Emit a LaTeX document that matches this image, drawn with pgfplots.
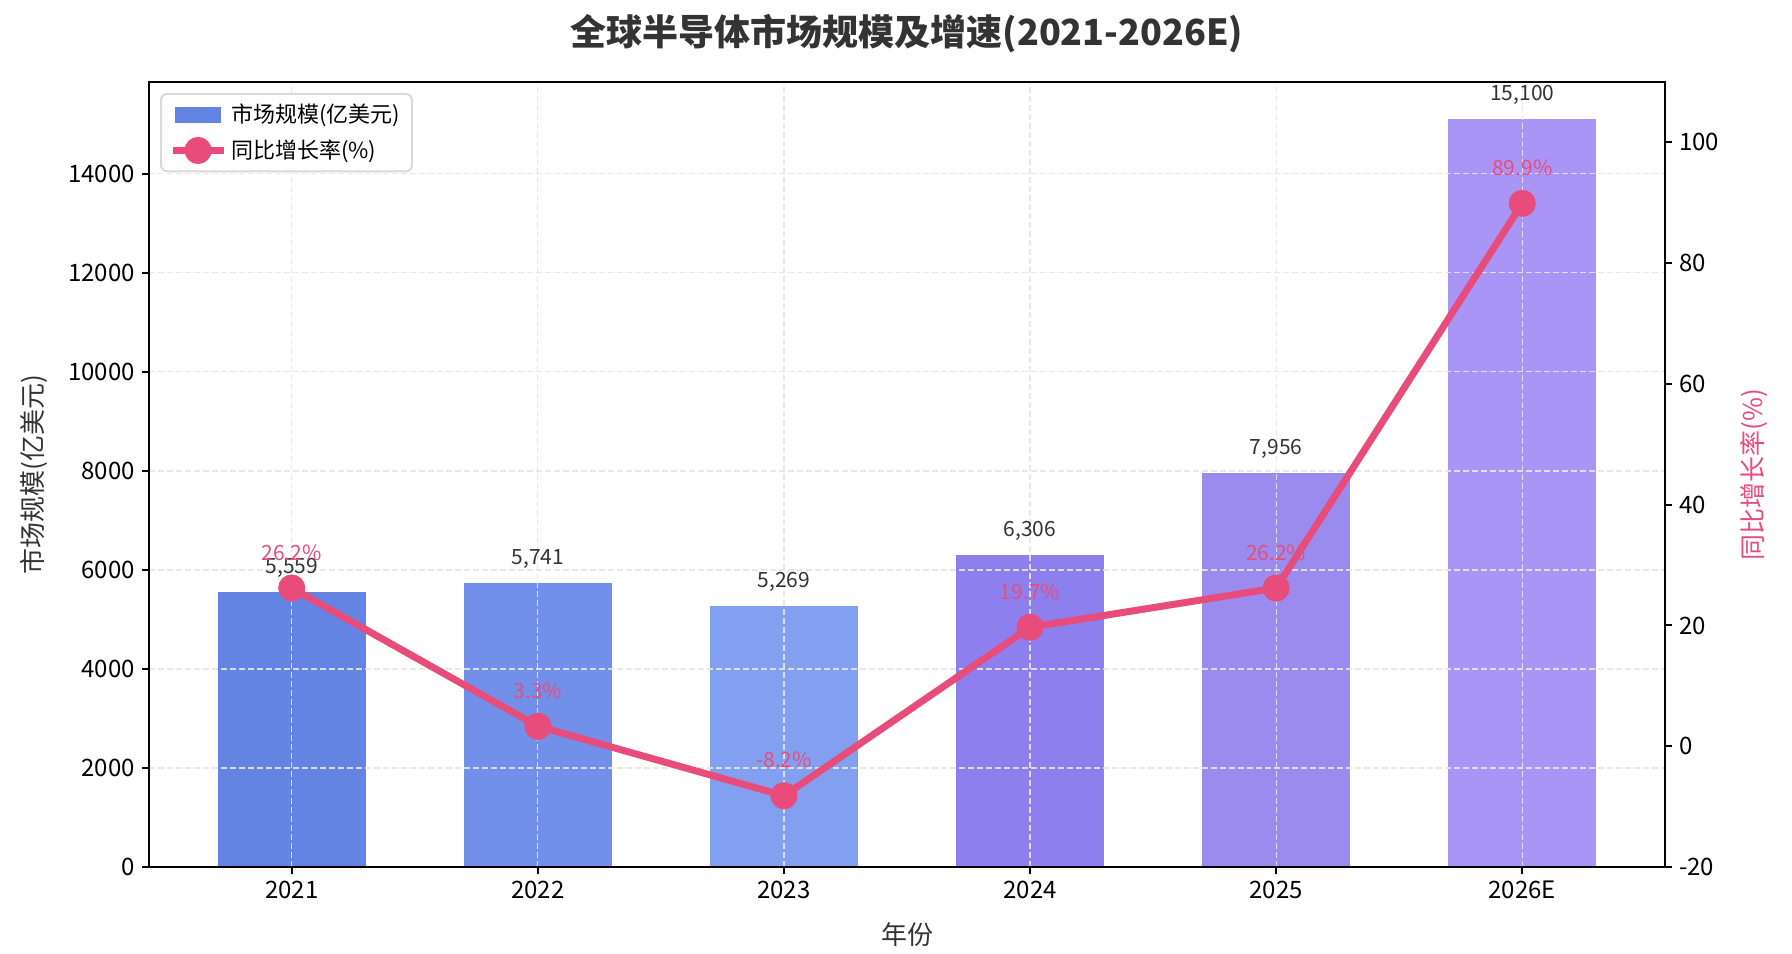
\documentclass[border=0pt]{standalone}
\usepackage{fontspec}
\setmainfont{Noto Sans CJK SC}
\usepackage{pgfplots}
\pgfplotsset{compat=1.18}
\definecolor{b1}{RGB}{100,132,228}
\definecolor{b2}{RGB}{114,144,233}
\definecolor{b3}{RGB}{131,160,240}
\definecolor{b4}{RGB}{141,127,237}
\definecolor{b5}{RGB}{155,139,238}
\definecolor{b6}{RGB}{169,149,245}
\definecolor{pk}{RGB}{232,76,122}
\definecolor{tx}{RGB}{51,51,51}
\begin{document}
\begin{tikzpicture}[x=1pt,y=1pt]
\useasboundingbox (0,0) rectangle (896,476.5);
\node[font=\fontsize{18}{20}\selectfont\bfseries, text=tx] at (453.5,459.5) {全球半导体市场规模及增速(2021-2026E)};
\pgfplotsset{
 common/.style={
  scale only axis, width=758pt, height=392.5pt,
  at={(74.5pt,43pt)}, anchor=south west,
  xmin=-0.58, xmax=5.58,
  tick align=outside, major tick length=3.5pt,
  tick style={black, line width=1pt},
  axis line style={black, line width=1pt},
  every outer y axis line/.append style={-},
  every inner y axis line/.append style={-},
  ticklabel style={font=\fontsize{12}{14}\selectfont},
  scaled y ticks=false,
  /pgf/number format/assume math mode=true,
  /pgf/number format/1000 sep={},
  label style={font=\fontsize{13}{15}\selectfont, text=tx},
 }}
\begin{axis}[common,
 ymin=0, ymax=15855, ytick={0,2000,...,14000},
 xtick={0,...,5}, xticklabels={2021,2022,2023,2024,2025,2026E},
 xtick pos=bottom, ytick pos=left,
 axis on top,
 xmajorgrids, ymajorgrids,
 major grid style={dash pattern=on 3pt off 1.5pt, line width=0.6pt, color=black!10, opacity=0.9},
 ybar, bar width=0.6,
 xlabel={年份}, ylabel={市场规模(亿美元)},
 xlabel style={at={(axis description cs:0.5,-0.0866)}, anchor=center},
 ylabel style={at={(axis description cs:-0.0759,0.5)}, anchor=center},
 point meta=explicit symbolic,
 nodes near coords,
 nodes near coords style={font=\fontsize{10.5}{12}\selectfont, text=tx, anchor=south, inner sep=0pt, yshift=7pt},
]
\addplot[fill=b1, draw=none, bar shift=0pt] table[meta=lab] {
x y lab
0 5559 5,559
};
\addplot[fill=b2, draw=none, bar shift=0pt] table[meta=lab] {
x y lab
1 5741 5,741
};
\addplot[fill=b3, draw=none, bar shift=0pt] table[meta=lab] {
x y lab
2 5269 5,269
};
\addplot[fill=b4, draw=none, bar shift=0pt] table[meta=lab] {
x y lab
3 6306 6,306
};
\addplot[fill=b5, draw=none, bar shift=0pt] table[meta=lab] {
x y lab
4 7956 7,956
};
\addplot[fill=b6, draw=none, bar shift=0pt] table[meta=lab] {
x y lab
5 15100 15,100
};
\end{axis}
\begin{axis}[common,
 ymin=-20, ymax=110, ytick={-20,0,...,100},
 hide x axis, axis y line*=right, ytick pos=right,
 ylabel={同比增长率(\%)},
 ylabel style={at={(axis description cs:1.0587,0.5)}, anchor=center, text=pk},
 legend style={at={(axis description cs:0.0073,0.986)}, anchor=north west,
   draw=black!15, line width=1pt, rounded corners=3pt, fill=white,
   font=\fontsize{11}{13}\selectfont, text=black, row sep=3pt,
   inner xsep=4pt, inner ysep=3pt},
 legend cell align=left,
]
\addlegendimage{legend image code/.code={\fill[b1, sharp corners] (-1pt,-3.5pt) rectangle (21pt,3.5pt);}}
\addlegendentry{市场规模(亿美元)}
\addplot[pk, line width=3.5pt, mark=*, mark size=5pt, mark options={solid, draw=none, fill=pk},
  point meta=explicit symbolic, nodes near coords,
  nodes near coords style={text=pk, font=\fontsize{10.5}{12}\selectfont, anchor=south, inner sep=0pt, yshift=12pt},
  legend image code/.code={\draw[pk, line width=3.5pt, sharp corners] (-2.5pt,0pt) -- (23pt,0pt); \fill[pk] (10.25pt,0pt) circle (5pt);}]
 table[meta=lab] {
x y lab
0 26.2 26.2\%
1 3.3 3.3\%
2 -8.2 -8.2\%
3 19.7 19.7\%
4 26.2 26.2\%
5 89.9 89.9\%
};
\addlegendentry{同比增长率(\%)}
\end{axis}
\end{tikzpicture}
\end{document}
